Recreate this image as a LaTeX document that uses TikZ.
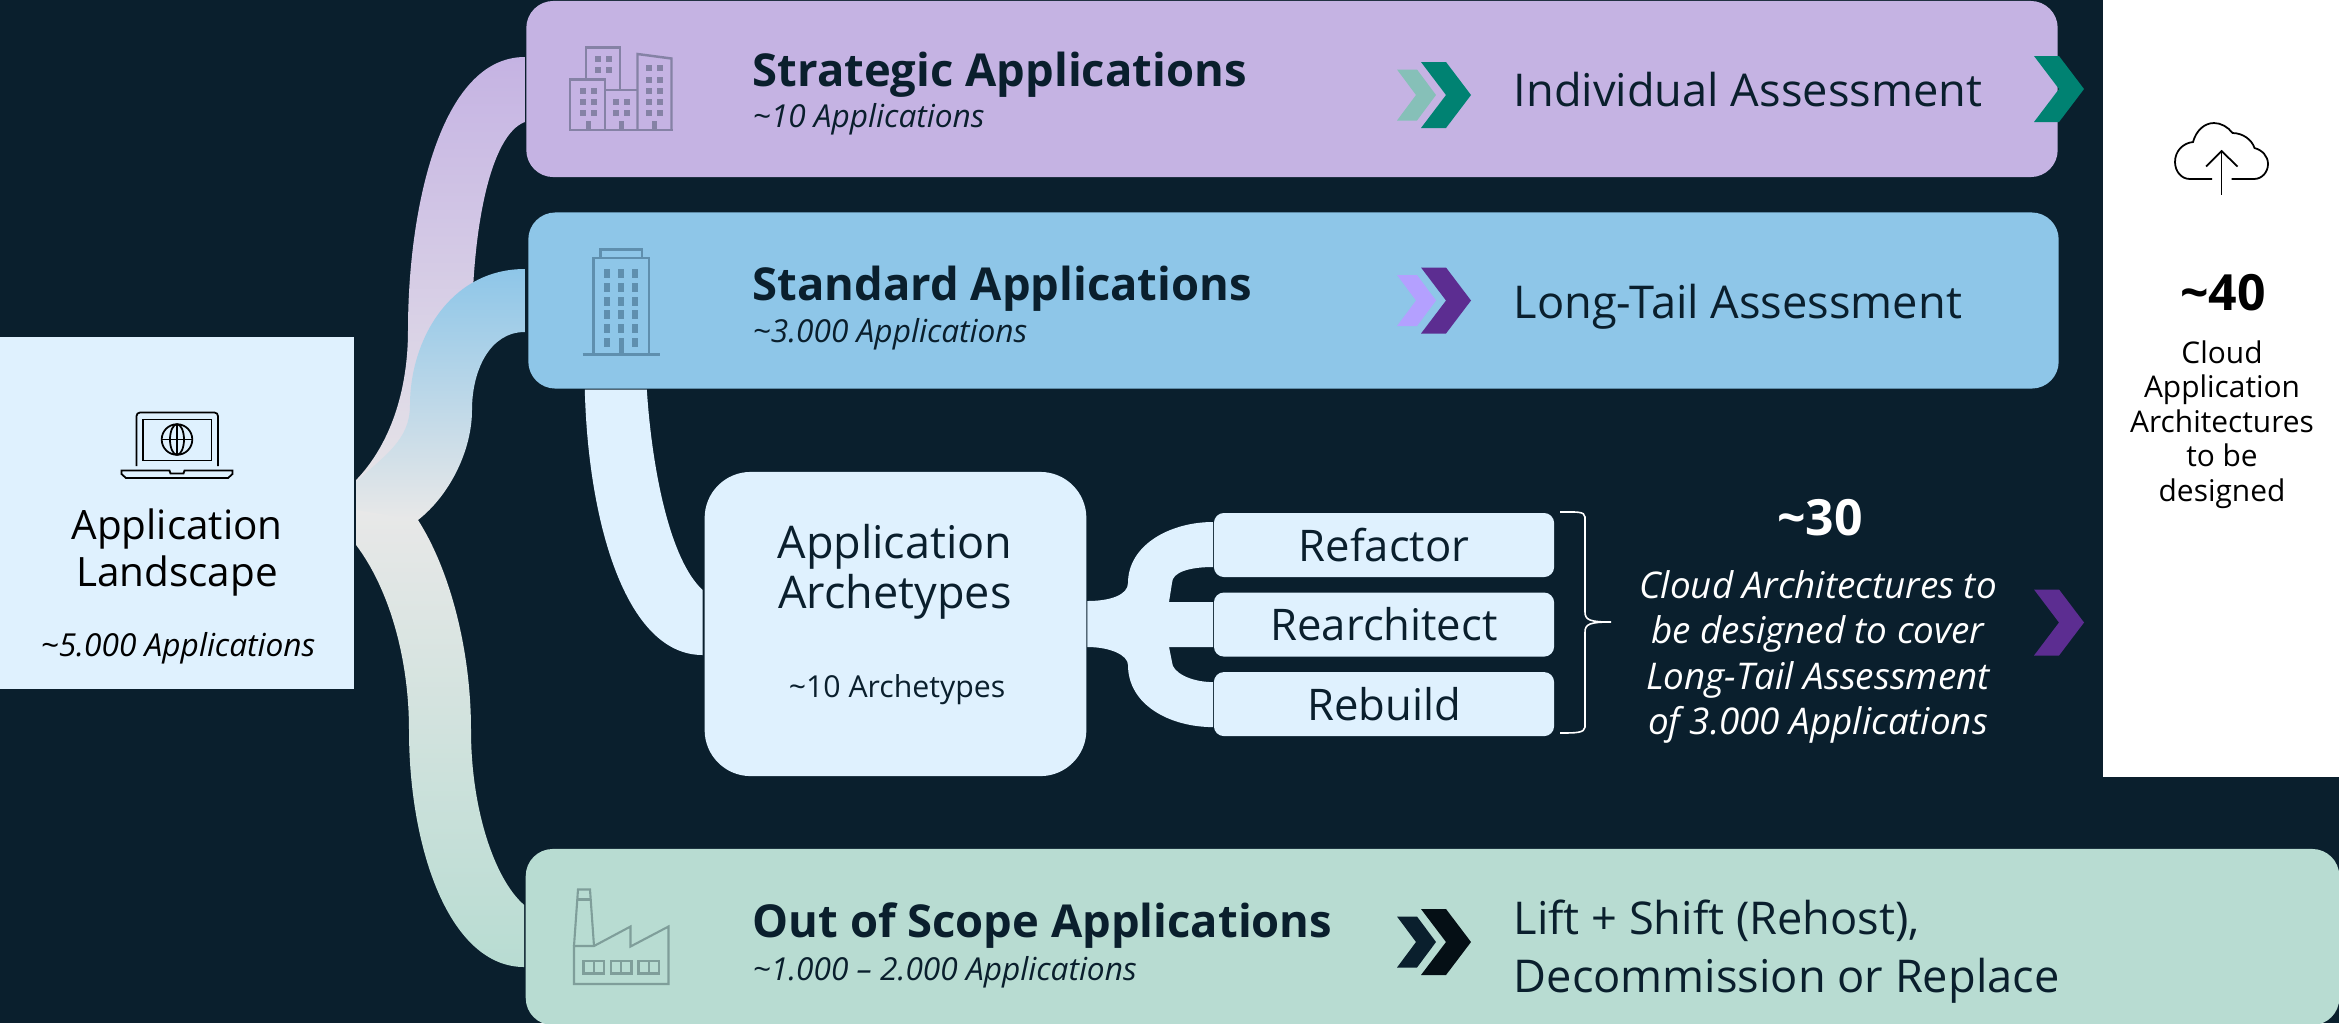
\documentclass[tikz,border=0pt]{standalone}
\usepackage{fontspec}
\usepackage{tikz}
\setmainfont{Open Sans}
\usetikzlibrary{arrows,calc}
\definecolor{bgdark}{HTML}{0A1F2D}
\definecolor{boxpurple}{HTML}{C5B3E3}
\definecolor{boxblue}{HTML}{8EC6E8}
\definecolor{boxgreen}{HTML}{B8DCD2}
\definecolor{boxlight}{HTML}{DFF1FE}
\definecolor{fadegray}{HTML}{E8E8E8}
\definecolor{chevgreen}{HTML}{008272}
\definecolor{chevgreenl}{HTML}{86C0B8}
\definecolor{chevpurple}{HTML}{5C2D91}
\definecolor{chevpurplel}{HTML}{B4A0FF}
\definecolor{chevblack}{HTML}{050F15}
\definecolor{icopurple}{HTML}{8582A5}
\definecolor{icoblue}{HTML}{5F8FAE}
\definecolor{icogreen}{HTML}{7F9E9A}
\newcommand{\apx}{\textasciitilde}
\newcommand{\fsz}[2]{\fontsize{#1}{#2}\selectfont}

\begin{document}
\begin{tikzpicture}[x=0.01cm,y=-0.01cm,node distance=0.795cm]
	\tikzstyle{box}=[draw=none,inner sep=0pt,outer sep=0pt]
	\tikzstyle{band}=[box,rounded corners=0.27cm,minimum height=1.76cm]
	\tikzstyle{optbox}=[box,fill=boxlight,rounded corners=0.1cm,minimum width=3.4cm,minimum height=0.64cm,text=bgdark,font=\fsz{12.4}{14}]
	\tikzstyle{title}=[anchor=base west,inner sep=0pt,text=bgdark,font=\fsz{12.9}{15}\bfseries]
	\tikzstyle{count}=[anchor=base west,inner sep=0pt,text=bgdark,font=\fsz{9}{11}\itshape]
	\tikzstyle{result}=[anchor=base west,inner sep=0pt,text=bgdark,font=\fsz{12.85}{16.5}]
	\tikzstyle{bignum}=[anchor=base,inner sep=0pt,font=\fsz{14.2}{16}\bfseries]
	
	\useasboundingbox (0,0) rectangle (2339,1023);
	\fill[bgdark] (0,0) rectangle (2339,1023);
	
	\node[box,fill=white,minimum width=2.36cm,minimum height=7.77cm] (panel) at (2221,388.5) {};
	\node[box,fill=boxlight,minimum width=3.54cm,minimum height=3.52cm] (landscape) at (177,513) {};
	\node[band,fill=boxpurple,minimum width=15.305cm] (strategic) at (1292,89) {};
	\node[band,fill=boxblue,minimum width=15.295cm] (standard) at (1293.5,300.5) {};
	\node[band,fill=boxgreen,minimum width=18.125cm] (outscope) at (1432.5,937) {};
	\node[box,fill=boxlight,rounded corners=0.46cm,minimum width=3.815cm,minimum height=3.04cm] (archetypes) at (895.5,624) {};
	\node[optbox] (refactor) at (1384,545) {Refactor};
	\node[optbox] (rearchitect) [below of=refactor] {Rearchitect};
	\node[optbox] (rebuild) [below of=rearchitect] {Rebuild};
	
	% ribbons
	\shade[top color=boxpurple,bottom color=fadegray]
	([shift={(-1.5,-32)}]strategic.west) .. controls (440,57) and (408,210) .. (408,330)
	.. controls (408,400) and (385,450) .. ([shift={(2,-33)}]landscape.east)
	-- (356,520) -- (440,420) -- (472,330)
	.. controls (472,230) and (490,135) .. ([shift={(-1.5,33)}]strategic.west) -- cycle;
	\shade[top color=boxblue,bottom color=fadegray]
	([shift={(-3.5,-31.5)}]standard.west) .. controls (450,269) and (410,340) .. (410,405)
	.. controls (410,440) and (385,455) .. ([shift={(2,-31)}]landscape.east)
	-- (356,520) -- (418,520)
	.. controls (450,495) and (472,450) .. (472,410)
	.. controls (472,370) and (490,332) .. ([shift={(-3.5,31.5)}]standard.west) -- cycle;
	\shade[top color=fadegray,bottom color=boxgreen]
	([shift={(2,-3)}]landscape.east) -- (418,520)
	.. controls (450,570) and (471,650) .. (471,730)
	.. controls (471,810) and (495,880) .. ([shift={(-1.5,-32)}]outscope.west)
	-- ([shift={(-1.5,30)}]outscope.west)
	.. controls (450,967) and (409,850) .. (409,730)
	.. controls (409,660) and (390,590) .. ([shift={(2,32)}]landscape.east) -- cycle;
	\fill[boxlight] ([shift={(56.5,1)}]standard.south west)
	.. controls (588,520) and (625,655) .. ([shift={(-2,31)}]archetypes.west)
	-- ([shift={(-2,-34)}]archetypes.west)
	.. controls (670,560) and (652,470) .. ([shift={(118.5,1)}]standard.south west) -- cycle;
	\fill[boxlight] ([shift={(1,-23)}]archetypes.east)
	.. controls (1110,601) and (1128,595) .. (1128,583)
	.. controls (1128,545) and (1170,522) .. ([shift={(-1,-23)}]refactor.west)
	-- ([shift={(-1,22)}]refactor.west)
	.. controls (1190,567) and (1172,572) .. (1172,583)
	-- (1169,602) -- ([shift={(-1,-22.5)}]rearchitect.west)
	-- ([shift={(-1,22.5)}]rearchitect.west) -- (1169,647) -- (1172,662)
	.. controls (1172,672) and (1190,682) .. ([shift={(-1,-22)}]rebuild.west)
	-- ([shift={(-1,23)}]rebuild.west)
	.. controls (1170,727) and (1128,705) .. (1128,665)
	.. controls (1128,655) and (1110,647) .. ([shift={(1,23)}]archetypes.east) -- cycle;
	
	% chevrons
	\foreach \cy/\cl/\cd in {95/chevgreenl/chevgreen,300.5/chevpurplel/chevpurple,942/bgdark/chevblack}{
		\fill[\cl] (1397,\cy-25.5) -- (1417,\cy-25.5) -- (1436,\cy) -- (1417,\cy+25.5) -- (1397,\cy+25.5) -- (1416,\cy) -- cycle;
		\fill[\cd] (1421,\cy-33) -- (1446,\cy-33) -- (1471,\cy) -- (1446,\cy+33) -- (1421,\cy+33) -- (1446,\cy) -- cycle;
	}
	\foreach \cy/\cd in {89/chevgreen,622.5/chevpurple}{
		\fill[\cd] (2034,\cy-33) -- (2059,\cy-33) -- (2084,\cy) -- (2059,\cy+33) -- (2034,\cy+33) -- (2059,\cy) -- cycle;
	}
	
	% strategic icon
	\draw[icopurple,line width=0.7pt] (570,130) -- (570,79.5) -- (605,79.5) -- (605,130);
	\draw[icopurple,line width=0.7pt] (586,79.5) -- (586,47.5) -- (620,47.5) -- (620,90);
	\draw[icopurple,line width=0.7pt] (605,90) -- (637,90);
	\draw[icopurple,line width=0.7pt] (637.5,130) -- (637.5,54) -- (671.5,58.5) -- (671.5,130);
	\draw[icopurple,line width=0.7pt] (569,130) -- (672.5,130);
	\foreach \wx/\wy in {580/88,591/88,580/99,591/99,580/110,591/110,595/56,606/56,595/67,606/67,613/99,624/99,613/110,624/110,646/65,657/65,646/77,657/77,646/88,657/88,646/99,657/99,646/110,657/110}{
		\fill[icopurple] (\wx,\wy) rectangle (\wx+6,\wy+6);
	}
	\foreach \wx in {585.5,618.5,652}{
		\fill[icopurple] (\wx,121) rectangle (\wx+5,130);
	}
	
	% standard icon
	\draw[icoblue,line width=0.7pt] (600.5,257) -- (600.5,249.5) -- (642,249.5) -- (642,257);
	\draw[icoblue,line width=0.7pt] (593.5,354.5) -- (593.5,258) -- (649,258) -- (649,354.5);
	\draw[icoblue,line width=0.7pt] (582.5,354.5) -- (660,354.5);
	\foreach \wx in {604,618,632}{
		\foreach \wy in {269,283,297,310,324}{
			\fill[icoblue] (\wx,\wy) rectangle (\wx+6,\wy+9);
		}
	}
	\fill[icoblue] (604,338) rectangle (610,347);
	\fill[icoblue] (632,338) rectangle (638,347);
	\fill[icoblue] (618.5,338) rectangle (623.5,354);
	
	% factory icon
	\draw[icogreen,line width=0.6pt] (574,946) -- (578,889.5) -- (590,889.5) -- (594,946);
	\draw[icogreen,line width=0.6pt] (577.5,899.5) -- (590.5,899.5);
	\draw[icogreen,line width=0.6pt] (574,946) -- (574,984) -- (668.5,984) -- (668.5,926.5) -- (630.5,946.5) -- (630.5,926.5) -- (594,946) -- cycle;
	\foreach \wx in {583.5,611,638.5}{
		\draw[icogreen,line width=0.6pt] (\wx,961) rectangle (\wx+20.5,973.5);
		\draw[icogreen,line width=0.6pt] (\wx+10.25,961) -- (\wx+10.25,973.5);
	}
	
	% laptop icon
	\draw[black,line width=0.5pt,rounded corners=1pt] (136.5,466) -- (136.5,412.5) -- (218,412.5) -- (218,466);
	\draw[black,line width=0.5pt] (143,419.5) rectangle (211.5,460.5);
	\draw[black,line width=0.5pt] (177,439.5) circle [radius=0.153cm];
	\draw[black,line width=0.5pt] (177,439.5) ellipse [x radius=0.07cm,y radius=0.153cm];
	\draw[black,line width=0.5pt] (177,424) -- (177,455);
	\draw[black,line width=0.5pt] (161.5,439.5) -- (192.5,439.5);
	\draw[black,line width=0.5pt] (121.5,470.5) -- (169.5,470.5) -- (170.5,473.5) -- (183.5,473.5) -- (184.5,470.5) -- (232.5,470.5) -- (232.5,474) -- (228,478) -- (126,478) -- (121.5,474) -- cycle;
	
	% cloud icon
	\draw[black,line width=0.5pt] (2212,179) -- (2190,179) .. controls (2181,179) and (2175,171) .. (2175,162)
	.. controls (2175,151) and (2183,143) .. (2193,142) .. controls (2196,131) and (2204,123) .. (2214,123)
	.. controls (2221,123) and (2228,127) .. (2232.5,133) .. controls (2243,133) and (2252,140) .. (2254.5,148)
	.. controls (2262,150) and (2268,156) .. (2268,164) .. controls (2268,172) and (2262,179) .. (2254,179) -- (2231.5,179);
	\draw[black,line width=0.5pt] (2221.5,194.5) -- (2221.5,151);
	\draw[black,line width=0.5pt] (2206,166.5) -- (2221.5,151) -- (2237.5,166.5);
	
	% brace
	\draw[white,line width=0.45pt] (1560,512) .. controls (1575,512) and (1585,511) .. (1585,517) -- (1585,612)
	.. controls (1585,620) and (1590,622) .. (1611,622) .. controls (1590,622) and (1585,624) .. (1585,632)
	-- (1585,727) .. controls (1585,733) and (1575,733) .. (1560,733);
	
	% labels
	\node[anchor=base,inner sep=0pt,align=center,text=black,font=\fsz{11.5}{13.1}] (landscapetxt) at (177,586) {Application\\Landscape};
	\node[anchor=base,inner sep=0pt,text=black,font=\fsz{9}{11}\itshape] (landscapenum) at (178,656) {\apx5.000 Applications};
	\node[anchor=base,inner sep=0pt,align=center,text=bgdark,font=\fsz{12.8}{14.2}] (archetypestxt) at (895,608.5) {Application\\Archetypes};
	\node[anchor=base,inner sep=0pt,text=bgdark,font=\fsz{8.6}{10}] (archetypesnum) at (897,697) {\apx10 Archetypes};
	
	\node[title] (strategictxt) at (752,86) {Strategic Applications};
	\node[count] (strategicnum) at (752,127) {\apx10 Applications};
	\node[title] (standardtxt) at (752,300) {Standard Applications};
	\node[count] (standardnum) at (752,342) {\apx3.000 Applications};
	\node[title] (outscopetxt) at (752,937) {Out of Scope Applications};
	\node[count] (outscopenum) at (752,980) {\apx1.000 – 2.000 Applications};
	
	\node[result] (individual) at (1513,106) {Individual Assessment};
	\node[result] (longtail) at (1513,318) {Long-Tail Assessment};
	\node[result,align=left] (lift) at (1513,992) {Lift + Shift (Rehost),\\Decommission or Replace};
	
	\node[bignum,text=white] (numthirty) at (1820,535) {\apx30};
	\node[anchor=base,inner sep=0pt,align=center,text=white,font=\fsz{10.46}{12.8}\itshape] (thirtytxt) at (1818,734) {Cloud Architectures to\\be designed to cover\\Long-Tail Assessment\\of 3.000 Applications};
	\node[bignum,text=black] (numforty) at (2223,310) {\apx40};
	\node[anchor=base,inner sep=0pt,align=center,text=black,font=\fsz{8.5}{9.8}] (fortytxt) at (2222,501) {Cloud\\Application\\Architectures\\to be\\designed};
\end{tikzpicture}
\end{document}
